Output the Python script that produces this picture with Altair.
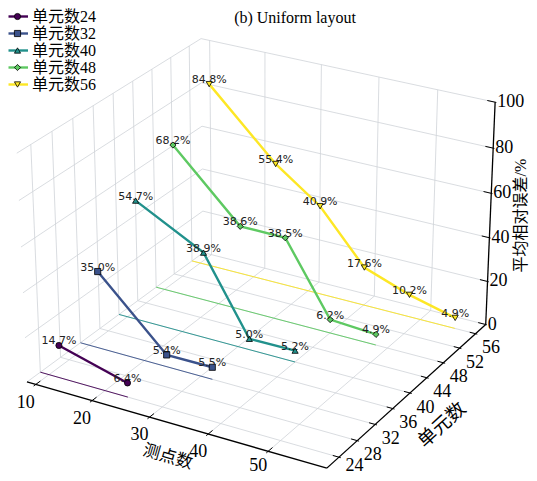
import numpy as np
import pandas as pd
import altair as alt

# ---------------- data ----------------
units = [24, 32, 40, 48, 56]
points = [12, 24, 32, 40, 48, 56]
err_24 = [14.7, 6.4]
err_32 = [35.0, 5.4, 5.5]
err_40 = [54.7, 38.9, 5.0, 5.2]
err_48 = [68.2, 38.6, 38.5, 6.2, 4.9]
err_56 = [84.8, 55.4, 40.9, 17.6, 10.2, 4.9]
x_ticks = [10, 20, 30, 40, 50]
y_ticks = [24, 28, 32, 36, 40, 44, 48, 52, 56]
z_ticks = [0, 20, 40, 60, 80, 100]
colors = ["#440154", "#3b528b", "#21918c", "#5ec962", "#fde725"]
shapes = ["circle", "square", "triangle-up", "diamond", "triangle-down"]
title_text = "(b) Uniform layout"
x_title = "测点数"
y_title = "单元数"
z_title = "平均相对误差/%"

# ---------------- 3D view (perspective camera) ----------------
XLIM = (8.43, 59.57)
YLIM = (21.4, 58.6)
ZLIM = (0.0, 100.0)
ELEV, AZIM, DIST = 27.0, -60.0, 10.0
HALF = (0.595, 0.595, 0.46)
KX, KY, CX, CY = 288.0, 275.0, 260.7, 242.3

el, az = np.radians(ELEV), np.radians(AZIM)
CAM = np.array([np.cos(el) * np.cos(az), np.cos(el) * np.sin(az), np.sin(el)])
RGT = np.array([-np.sin(az), np.cos(az), 0.0])
UPV = np.array([-np.sin(el) * np.cos(az), -np.sin(el) * np.sin(az), np.cos(el)])


def proj(X, Y, Z):
    X, Y, Z = np.broadcast_arrays(np.asarray(X, float), np.asarray(Y, float), np.asarray(Z, float))
    p = np.stack([
        ((X - XLIM[0]) / (XLIM[1] - XLIM[0]) - 0.5) * 2 * HALF[0],
        ((Y - YLIM[0]) / (YLIM[1] - YLIM[0]) - 0.5) * 2 * HALF[1],
        ((Z - ZLIM[0]) / (ZLIM[1] - ZLIM[0]) - 0.5) * 2 * HALF[2],
    ], axis=-1)
    s = DIST / (DIST - p @ CAM)
    return CX + KX * (p @ RGT) * s, CY - KY * (p @ UPV) * s


def P(X, Y, Z):
    a, b = proj(X, Y, Z)
    return float(a), float(b)


Xa, Xb = XLIM
Ya, Yb = YLIM
Za, Zb = ZLIM

# ---------------- panes ----------------
def pane_area(name, corners):
    pts = [P(*c) for c in corners]
    xs = sorted(set(round(p[0], 6) for p in pts))
    out = []
    for x in xs:
        ys = []
        for i in range(len(pts)):
            (x1, y1), (x2, y2) = pts[i], pts[(i + 1) % len(pts)]
            if min(x1, x2) - 1e-6 <= x <= max(x1, x2) + 1e-6:
                if abs(x2 - x1) < 1e-9:
                    ys += [y1, y2]
                else:
                    ys.append(y1 + (x - x1) * (y2 - y1) / (x2 - x1))
        out.append(dict(pane=name, x=x, ytop=min(ys), ybot=max(ys)))
    return out

pane_rows = []
pane_rows += pane_area("floor", [(Xa, Ya, Za), (Xb, Ya, Za), (Xb, Yb, Za), (Xa, Yb, Za)])
pane_rows += pane_area("left", [(Xa, Ya, Za), (Xa, Yb, Za), (Xa, Yb, Zb), (Xa, Ya, Zb)])
pane_rows += pane_area("back", [(Xa, Yb, Za), (Xb, Yb, Za), (Xb, Yb, Zb), (Xa, Yb, Zb)])
panes = pd.DataFrame(pane_rows)

# ---------------- segments ----------------
GRID = "#cfd3d8"
segs = []


def seg(p0, p1, col, w):
    x0, y0 = P(*p0)
    x1, y1 = P(*p1)
    segs.append(dict(x0=x0, y0=y0, x1=x1, y1=y1, col=col, w=w))

for xt in x_ticks:
    seg((xt, Ya, Za), (xt, Yb, Za), GRID, 0.8)
    seg((xt, Yb, Za), (xt, Yb, Zb), GRID, 0.8)
for yt in y_ticks:
    seg((Xa, yt, Za), (Xb, yt, Za), GRID, 0.8)
    seg((Xa, yt, Za), (Xa, yt, Zb), GRID, 0.8)
for zt in z_ticks:
    seg((Xa, Ya, zt), (Xa, Yb, zt), GRID, 0.8)
    seg((Xa, Yb, zt), (Xb, Yb, zt), GRID, 0.8)

err_lists = [err_24, err_32, err_40, err_48, err_56]
# thin coloured floor lines for each series
for u, errs, col in zip(units, err_lists, colors):
    seg((Xa, u, Za), (points[len(errs) - 1], u, Za), col, 0.9)

# axis lines and ticks
seg((Xa, Ya, Za), (Xb, Ya, Za), "black", 1.3)
seg((Xb, Ya, Za), (Xb, Yb, Za), "black", 1.3)
seg((Xb, Yb, Za), (Xb, Yb, Zb), "black", 1.3)
for xt in x_ticks:
    seg((xt, Ya + 0.9, Za), (xt, Ya - 0.4, Za), "black", 1.0)
for yt in y_ticks:
    seg((Xb - 1.0, yt, Za), (Xb + 0.3, yt, Za), "black", 1.0)
for zt in z_ticks:
    seg((Xb - 1.3, Yb, zt), (Xb + 0.2, Yb, zt), "black", 1.0)

segments = pd.DataFrame(segs)

# ---------------- series ----------------
ser_rows = []
for k, (u, errs) in enumerate(zip(units, err_lists)):
    for X, e in zip(points, errs):
        px, py = P(X, u, e)
        ser_rows.append(dict(series=str(u), X=X, err=e, x=px, y=py, label=f"{e:.1f}%"))
series = pd.DataFrame(ser_rows)

# ---------------- tick labels ----------------
BOTTOM = 465.5
lab_rows = []
for xt in x_ticks:
    a, b = P(xt, Ya, Za)
    lab_rows.append(dict(x=a - 10, y=min(b + 18, BOTTOM), text=str(xt)))
for yt in y_ticks:
    a, b = P(Xb, yt, Za)
    lab_rows.append(dict(x=a + 15.5, y=min(b + 14.5, BOTTOM), text=str(yt)))
ticklabels = pd.DataFrame(lab_rows)
zlab = pd.DataFrame([dict(x=P(Xb, Yb, zt)[0] + 2.0, y=P(Xb, Yb, zt)[1], text=str(zt)) for zt in z_ticks])

ax_t = P((Xa + Xb) / 2, Ya, Za)
ay_t = P(Xb, (Ya + Yb) / 2, Za)
az_t = P(Xb, Yb, (Za + Zb) / 2)
titles = pd.DataFrame([
    dict(x=ax_t[0] - 5, y=min(ax_t[1] + 38, 457.0), text=x_title, ang=16, fs=17),
    dict(x=ay_t[0] + 32, y=ay_t[1] + 32, text=y_title, ang=318, fs=19),
    dict(x=min(az_t[0] + 38, 521.0), y=az_t[1], text=z_title, ang=270, fs=16),
])

# ---------------- legend ----------------
leg = pd.DataFrame(dict(
    series=[str(u) for u in units],
    label=[f"单元数{u}" for u in units],
    ly=[16.5 + 17.0 * i for i in range(len(units))],
))
leg["lx0"] = 8.5
leg["lx1"] = 28.0
leg["mx"] = 17.5
leg["tx"] = 32.0

# ---------------- chart ----------------
XS = alt.Scale(domain=[8, 529], nice=False, zero=False)
YS = alt.Scale(domain=[8, 473], nice=False, zero=False, reverse=True)
sdom = [str(u) for u in units]
CSC = alt.Scale(domain=sdom, range=colors)
SSC = alt.Scale(domain=sdom, range=shapes)


def X(f):
    return alt.X(f, type="quantitative", scale=XS, axis=None)


def Y(f):
    return alt.Y(f, type="quantitative", scale=YS, axis=None)

pane_layer = alt.Chart(panes).mark_area(color="#f2f2f2", opacity=0.55).encode(
    x=X("x"), y=Y("ytop"), y2="ybot", detail="pane:N", order="x:Q"
)

seg_layer = alt.Chart(segments).mark_rule().encode(
    x=X("x0"), y=Y("y0"), x2="x1", y2="y1",
    color=alt.Color("col:N", scale=None),
    strokeWidth=alt.StrokeWidth("w:Q", scale=None),
)

line_layer = alt.Chart(series).mark_line(strokeWidth=2.4).encode(
    x=X("x"), y=Y("y"),
    color=alt.Color("series:N", scale=CSC, legend=None),
    detail="series:N", order="X:Q",
)

text_layer = alt.Chart(series).mark_text(
    font="DejaVu Sans", fontSize=11, baseline="alphabetic", align="center", dy=-1, color="#222222"
).encode(x=X("x"), y=Y("y"), text="label:N")

marker_layer = alt.Chart(series).mark_point(
    filled=True, size=38, stroke="black", strokeWidth=0.8, opacity=1
).encode(
    x=X("x"), y=Y("y"),
    fill=alt.Fill("series:N", scale=CSC, legend=None),
    shape=alt.Shape("series:N", scale=SSC, legend=None),
)

tick_layer = alt.Chart(ticklabels).mark_text(
    font="Liberation Serif", fontSize=18, baseline="middle", align="center", color="black"
).encode(x=X("x"), y=Y("y"), text="text:N")

ztick_layer = alt.Chart(zlab).mark_text(
    font="Liberation Serif", fontSize=18, baseline="middle", align="left", color="black"
).encode(x=X("x"), y=Y("y"), text="text:N")

title_layers = []
for _, r in titles.iterrows():
    title_layers.append(
        alt.Chart(titles[titles["text"] == r["text"]]).mark_text(
            font="Liberation Serif, Noto Sans CJK SC", fontSize=float(r["fs"]), baseline="middle",
            align="center", angle=int(r["ang"]), color="black"
        ).encode(x=X("x"), y=Y("y"), text="text:N")
    )

head = alt.Chart(pd.DataFrame(dict(x=[295.0], y=[18.0], text=[title_text]))).mark_text(
    font="Liberation Serif", fontSize=16, baseline="middle", align="center", color="black"
).encode(x=X("x"), y=Y("y"), text="text:N")

leg_line = alt.Chart(leg).mark_rule(strokeWidth=2.4).encode(
    x=X("lx0"), x2="lx1", y=Y("ly"), color=alt.Color("series:N", scale=CSC, legend=None)
)
leg_mark = alt.Chart(leg).mark_point(
    filled=True, size=38, stroke="black", strokeWidth=0.8, opacity=1
).encode(
    x=X("mx"), y=Y("ly"),
    fill=alt.Fill("series:N", scale=CSC, legend=None),
    shape=alt.Shape("series:N", scale=SSC, legend=None),
)
leg_text = alt.Chart(leg).mark_text(
    font="Liberation Serif, Noto Sans CJK SC", fontSize=16, baseline="middle", align="left", color="black"
).encode(x=X("tx"), y=Y("ly"), text="label:N")

chart = alt.layer(
    pane_layer, seg_layer, line_layer, text_layer, marker_layer, tick_layer, ztick_layer,
    *title_layers, head, leg_line, leg_mark, leg_text
).properties(
    width=521, height=465, padding=0, autosize=alt.AutoSizeParams(type="none")
).configure_view(stroke=None)

chart.save("out.html", embed_options={"renderer": "svg", "actions": False})
